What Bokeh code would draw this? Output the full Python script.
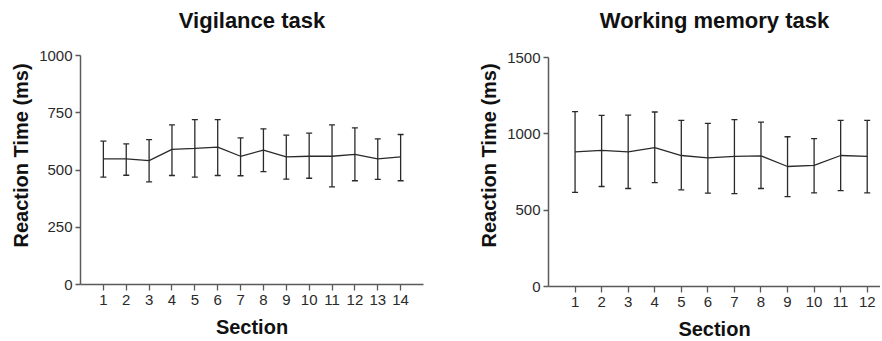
from bokeh.plotting import figure
from bokeh.models import (ColumnDataSource, Whisker, TeeHead, FixedTicker, Range1d,
                          Label, Title)
from bokeh.layouts import row
from bokeh.embed import file_html
from bokeh.resources import INLINE

# Vigilance task
vig_title = "Vigilance task"
vig_section = list(range(1, 15))
vig_mean = [549, 549, 541, 590, 594, 600, 560, 587, 557, 560, 560, 568, 549, 557]
vig_upper = [626, 614, 633, 697, 720, 720, 640, 680, 652, 661, 697, 684, 636, 655]
vig_lower = [469, 477, 448, 476, 469, 476, 475, 493, 460, 464, 426, 453, 459, 453]
vig_yticks = [0, 250, 500, 750, 1000]

# Working memory task
wm_title = "Working memory task"
wm_section = list(range(1, 13))
wm_mean = [882, 891, 882, 909, 858, 843, 852, 856, 786, 793, 858, 852]
wm_upper = [1145, 1121, 1123, 1143, 1088, 1069, 1093, 1077, 981, 968, 1088, 1088]
wm_lower = [617, 655, 642, 681, 633, 611, 609, 642, 589, 613, 628, 613]
wm_yticks = [0, 500, 1000, 1500]

y_label = "Reaction Time (ms)"
x_label = "Section"

FONT = "Liberation Sans"
INK = "#2a2a2a"
AXIS = "#5a5a5a"
AXIS_H = 229     # px height of the drawn value axis
TITLE_Y = 20     # px from top of the page to the title's centre


def make(title, xs, mean, upper, lower, yticks, xmax, ymax, bl, br, top, fw):
    fh = AXIS_H + top                     # frame also covers the title strip
    yend = ymax * fh / AXIS_H
    p = figure(output_backend="svg", toolbar_location=None,
               frame_width=fw, frame_height=fh,
               min_border_left=bl, min_border_right=br,
               min_border_top=0, min_border_bottom=50,
               x_range=Range1d(0, xmax), y_range=Range1d(0, yend),
               x_axis_label=x_label)
    src = ColumnDataSource(dict(x=xs, m=mean, up=upper, lo=lower))
    p.line("x", "m", source=src, line_color=INK, line_width=1.3)
    w = Whisker(base="x", upper="up", lower="lo", source=src,
                line_color=INK, line_width=1.3,
                upper_head=TeeHead(size=6, line_color=INK, line_width=1.3),
                lower_head=TeeHead(size=6, line_color=INK, line_width=1.3))
    p.add_layout(w)
    t = Label(x=xmax / 2, y=ymax * (fh - TITLE_Y) / AXIS_H, text=title,
              text_align="center", text_baseline="middle",
              text_font=FONT, text_font_size="22px", text_font_style="bold",
              text_color="#111111")
    p.add_layout(t)
    # y-axis title, placed beside the axis and aligned toward its lower part
    yl = Title(text=y_label, align="left", offset=top - 18, standoff=10,
               text_font=FONT, text_font_size="20px", text_font_style="bold",
               text_color="#111111")
    p.add_layout(yl, "left")
    p.outline_line_color = None
    p.grid.visible = False
    p.xaxis.ticker = FixedTicker(ticks=xs)
    p.yaxis.ticker = FixedTicker(ticks=yticks)
    p.yaxis.bounds = (0, ymax)
    for ax in (p.xaxis, p.yaxis):
        ax.axis_line_color = AXIS
        ax.axis_line_width = 1.5
        ax.major_tick_line_color = AXIS
        ax.major_tick_line_width = 1.3
        ax.minor_tick_line_color = None
        ax.major_tick_in = 0
        ax.major_label_text_font = FONT
        ax.major_label_text_font_size = "15px"
        ax.major_label_text_color = INK
        ax.axis_label_text_font = FONT
        ax.axis_label_text_font_size = "20px"
        ax.axis_label_text_font_style = "bold"
        ax.axis_label_text_color = "#111111"
    p.xaxis.major_tick_out = 6
    p.yaxis.major_tick_out = 5
    p.yaxis.major_label_standoff = 3
    p.xaxis.major_label_standoff = 4
    p.xaxis.axis_label_standoff = 8
    return p


p1 = make(vig_title, vig_section, vig_mean, vig_upper, vig_lower,
          vig_yticks, 15, 1000, 80, 17, 55, 343)
p2 = make(wm_title, wm_section, wm_mean, wm_upper, wm_lower,
          wm_yticks, 12.5, 1500, 108, 0, 57, 332)

layout = row(p1, p2)
open("out.html", "w").write(file_html(layout, INLINE))
